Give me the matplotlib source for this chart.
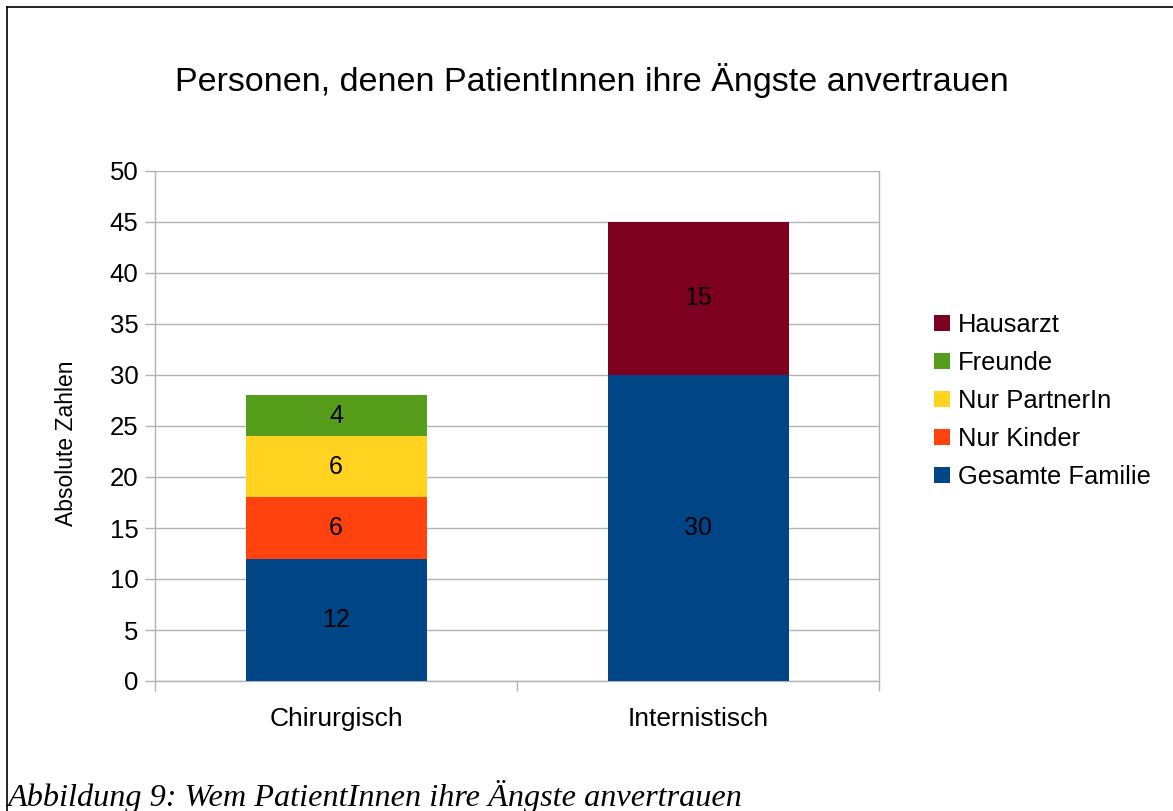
import matplotlib
matplotlib.use("Agg")
import matplotlib.pyplot as plt
from matplotlib.lines import Line2D
from matplotlib.patches import Patch

categories = ["Chirurgisch", "Internistisch"]
series_names = ["Gesamte Familie", "Nur Kinder", "Nur PartnerIn", "Freunde", "Hausarzt"]
gesamte_familie = [12, 30]
nur_kinder = [6, 0]
nur_partnerin = [6, 0]
freunde = [4, 0]
hausarzt = [0, 15]
series_values = [gesamte_familie, nur_kinder, nur_partnerin, freunde, hausarzt]
colors = ["#004586", "#ff420e", "#ffd320", "#579d1c", "#7e0021"]
yticks = list(range(0, 51, 5))

plt.rcParams['font.family'] = ['Liberation Sans', 'DejaVu Sans']

fig = plt.figure(figsize=(11.73, 8.11), dpi=100)
ax = fig.add_axes([155/1173, 1 - 681/811, (879-155)/1173, (681-171)/811])

x = list(range(len(categories)))
bottoms = [0] * len(categories)
for name, vals, col in zip(series_names, series_values, colors):
    ax.bar(x, vals, width=0.5, bottom=bottoms, color=col, label=name, zorder=3)
    for xi, v, b in zip(x, vals, bottoms):
        if v:
            ax.text(xi, b + v / 2, str(v), ha='center', va='center', fontsize=18, color='black', zorder=4)
    bottoms = [b + v for b, v in zip(bottoms, vals)]

ax.set_xlim(-0.5, len(categories) - 0.5)
ax.set_ylim(0, 50)
ax.set_yticks(yticks)
ax.set_yticklabels([str(t) for t in yticks], fontsize=18.5)
ax.yaxis.grid(True, color='#b3b3b3', linewidth=1, zorder=0)
ax.set_axisbelow(True)

ax.set_xticks([i - 0.5 for i in range(len(categories) + 1)])
ax.set_xticklabels([])
ax.set_xticks(x, minor=True)
ax.set_xticklabels(categories, minor=True, fontsize=19)
ax.tick_params(axis='x', which='minor', length=0, pad=19)
ax.tick_params(axis='x', which='major', length=7, color='#b3b3b3', width=1)
ax.tick_params(axis='y', length=7, color='#b3b3b3', width=1, pad=5)

for s in ['left', 'bottom', 'right']:
    ax.spines[s].set_color('#b3b3b3')
    ax.spines[s].set_linewidth(1)
ax.spines['top'].set_visible(False)

ax.set_ylabel("Absolute Zahlen", fontsize=16.5)
ax.yaxis.set_label_coords(-(155 - 78) / (879 - 155), (681 - 443) / (681 - 171))

fig.text(592/1173, 1 - 80/811, "Personen, denen PatientInnen ihre Ängste anvertrauen",
         ha='center', va='center', fontsize=24.5)

handles = [Patch(facecolor=c, edgecolor='none') for c in colors][::-1]
labels = series_names[::-1]
fig.legend(handles, labels, loc='center left', bbox_to_anchor=(934/1173, 1 - 401/811),
           frameon=False, fontsize=18.4, handlelength=0.63, handleheight=0.63,
           handletextpad=0.31, labelspacing=0.55, borderaxespad=0, borderpad=0)

fig.text(8/1173, 1 - 806/811, "Abbildung 9: Wem PatientInnen ihre Ängste anvertrauen",
         ha='left', va='baseline', fontsize=23.2, style='italic',
         family=['Liberation Serif', 'DejaVu Serif'])

fig.add_artist(Line2D([6.5/1173, 6.5/1173], [0, 1 - 6.5/811], transform=fig.transFigure, color='black', linewidth=1.2))
fig.add_artist(Line2D([6.5/1173, 1], [1 - 6.5/811, 1 - 6.5/811], transform=fig.transFigure, color='black', linewidth=1.2))

fig.savefig("out.png", dpi=100)
